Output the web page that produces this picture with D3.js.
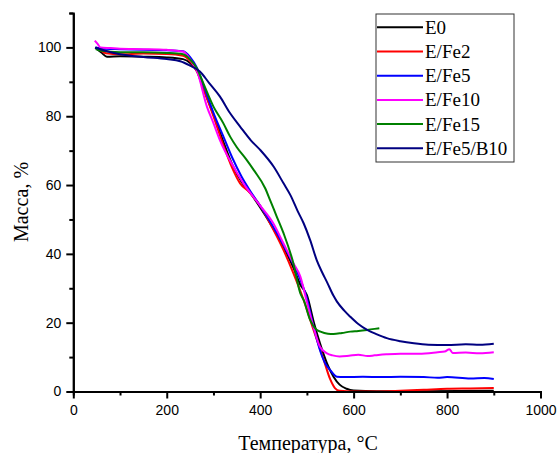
<!DOCTYPE html>
<html>
<head>
<meta charset="utf-8">
<script src="https://cdn.jsdelivr.net/npm/d3@7"></script>
<style>
  body { margin: 0; background: #fff; }
  .axis path, .axis line { stroke: #000; stroke-width: 2px; }
  .axis text { font-family: "Liberation Sans", Arial, sans-serif; font-size: 14px; fill: #000; }
  .serif { font-family: "Liberation Serif", "Times New Roman", serif; fill: #000; }
</style>
</head>
<body>
<div class="canvas"></div>
<script>
// TGA curves: [temperature °C, mass %]
const e0 = [[47,100],[60,98.5],[72,97.3],[100,97.4],[150,97.3],[200,97.1],[235,96.6],[250,95.5],[265,93],[280,87.5],[300,80.5],[320,73],[340,66],[360,61],[380,57.5],[400,53.5],[421,49],[450,42],[471,36],[486,31],[500,28],[515,20],[528,14],[543,8.2],[557,4.3],[570,2],[585,0.8],[600,0.3],[650,0.1],[750,0.1],[900,0.2]];
const eFe2 = [[50,100],[60,99],[70,98.3],[100,98],[150,98.2],[200,98.1],[235,97.6],[250,96],[265,93],[280,87.5],[300,80],[320,72],[340,65],[357,60.5],[375,58.2],[400,54],[421,48.9],[450,41.1],[471,34.4],[493,26.6],[514,18],[536,9.2],[550,3.5],[560,1],[570,0.2],[600,0],[650,0],[700,0.2],[750,0.5],[800,0.8],[850,0.9],[900,1]];
const eFe5 = [[48,100],[60,99.7],[100,99.5],[150,99.3],[200,99.2],[235,98.9],[250,97.2],[265,94],[280,88.5],[300,81],[320,74.5],[340,68],[360,62.5],[380,58],[400,54],[425,48.5],[450,42.5],[471,37],[486,32.5],[500,27],[514,19],[528,12],[540,8],[550,6.2],[564,4.3],[580,4.2],[620,4.3],[660,4.2],[700,4.3],[750,4.2],[780,4],[800,4.2],[850,3.8],[880,3.9],[900,3.6]];
const eFe10 = [[46,102],[52,101],[58,100],[80,99.8],[100,99.6],[150,99.5],[200,99.3],[235,98.8],[250,96.5],[265,93],[286,82.8],[300,78],[314,73],[343,65.3],[364,60.5],[380,57.5],[400,54],[428,48.9],[450,43],[471,37.3],[486,33.4],[500,26],[514,18.8],[528,13],[543,11.1],[555,10.5],[570,10.2],[590,10.4],[610,10.7],[630,10.3],[645,10.5],[670,10.8],[700,11],[740,11],[780,11.4],[795,11.6],[805,12.3],[812,11.2],[840,11.3],[870,11.1],[900,11.4]];
const eFe15 = [[48,99.5],[60,99],[100,98.6],[150,98.6],[200,98.4],[235,98],[250,96.5],[265,93.8],[280,89],[300,82.8],[321,78],[336,74],[350,71],[371,67.3],[386,64.4],[411,59],[421,55.7],[435,51],[450,46],[471,37.3],[486,28.5],[493,26.6],[507,20.8],[520,18],[529,17.4],[545,16.8],[557,16.7],[575,17],[593,17.4],[610,17.6],[629,17.9],[645,18.2],[655,18.4]];
const eFe5B10 = [[47,100],[60,99.4],[80,98.6],[100,98],[150,97.2],[200,96.6],[229,96],[250,94.7],[271,93],[290,89.8],[314,85.7],[335,81],[357,77],[380,73],[400,70.2],[429,65.3],[450,60.5],[465,57],[480,52.5],[493,48.9],[507,44],[521,38.2],[532,34.8],[543,31.8],[557,27.8],[564,26.2],[580,23.5],[593,21.7],[610,19.6],[629,17.9],[650,16.6],[671,15.5],[700,14.6],[729,14],[760,13.6],[800,13.5],[840,13.7],[870,13.6],[900,13.9]];

const seriesNames = ["E0", "E/Fe2", "E/Fe5", "E/Fe10", "E/Fe15", "E/Fe5/B10"];
const seriesData = [e0, eFe2, eFe5, eFe10, eFe15, eFe5B10];
const seriesColors = ["#000000", "#ff0000", "#0000ff", "#ff00ff", "#008000", "#000080"];

const xMajorTicks = [0, 200, 400, 600, 800, 1000];
const xMinorTicks = [100, 300, 500, 700, 900];
const yMajorTicks = [0, 20, 40, 60, 80, 100];
const yMinorTicks = [10, 30, 50, 70, 90, 110];

const w = 558;
const h = 453;

const svg = d3.select(".canvas").append("svg").attr("width", w).attr("height", h);

// scales
const x = d3.scaleLinear().domain([0, 1000]).range([73.3, 540.5]);
const y = d3.scaleLinear().domain([0, 110]).range([391.5, 13]);

// curves
const line = d3
  .line()
  .x((d) => x(d[0]))
  .y((d) => y(d[1]))
  .curve(d3.curveMonotoneX);

svg
  .selectAll(".curve")
  .data(seriesData)
  .enter()
  .append("path")
  .attr("class", "curve")
  .attr("d", line)
  .attr("fill", "none")
  .attr("stroke", (d, i) => seriesColors[i])
  .attr("stroke-width", 2)
  .attr("stroke-linejoin", "round");

// axes (minor ticks first, no labels)
svg
  .append("g")
  .attr("class", "axis")
  .attr("transform", `translate(0, ${y(0)})`)
  .call(d3.axisBottom(x).tickValues(xMinorTicks).tickSize(4).tickFormat(""));
svg
  .append("g")
  .attr("class", "axis")
  .attr("transform", `translate(0, ${y(0)})`)
  .call(d3.axisBottom(x).tickValues(xMajorTicks).tickSize(7).tickSizeOuter(0).tickPadding(7).tickFormat(d3.format("d")));

svg
  .append("g")
  .attr("class", "axis")
  .attr("transform", `translate(${x(0)}, 0)`)
  .call(d3.axisLeft(y).tickValues(yMinorTicks).tickSize(4).tickFormat(""));
svg
  .append("g")
  .attr("class", "axis")
  .attr("transform", `translate(${x(0)}, 0)`)
  .call(d3.axisLeft(y).tickValues(yMajorTicks).tickSize(7).tickSizeOuter(0).tickPadding(5).tickFormat(d3.format("d")));

// axis titles
svg
  .append("text")
  .attr("class", "serif")
  .attr("x", 308)
  .attr("y", 450)
  .attr("text-anchor", "middle")
  .style("font-size", "20px")
  .text("Температура, °C");

svg
  .append("text")
  .attr("class", "serif")
  .attr("transform", "translate(28, 202) rotate(-90)")
  .attr("text-anchor", "middle")
  .style("font-size", "20px")
  .text("Масса, %");

// legend
const legend = svg.append("g").attr("transform", "translate(376, 14)");
legend
  .append("rect")
  .attr("width", 138)
  .attr("height", 148)
  .attr("fill", "#fff")
  .attr("stroke", "#333")
  .attr("stroke-width", 1);

const item = legend
  .selectAll(".item")
  .data(seriesNames)
  .enter()
  .append("g")
  .attr("transform", (d, i) => `translate(0, ${13.3 + i * 24.2})`);

item
  .append("line")
  .attr("x1", 1)
  .attr("x2", 47)
  .attr("stroke", (d, i) => seriesColors[i])
  .attr("stroke-width", 2);

item
  .append("text")
  .attr("class", "serif")
  .attr("x", 49)
  .attr("y", 6.5)
  .style("font-size", "19px")
  .text((d) => d);
</script>
</body>
</html>
